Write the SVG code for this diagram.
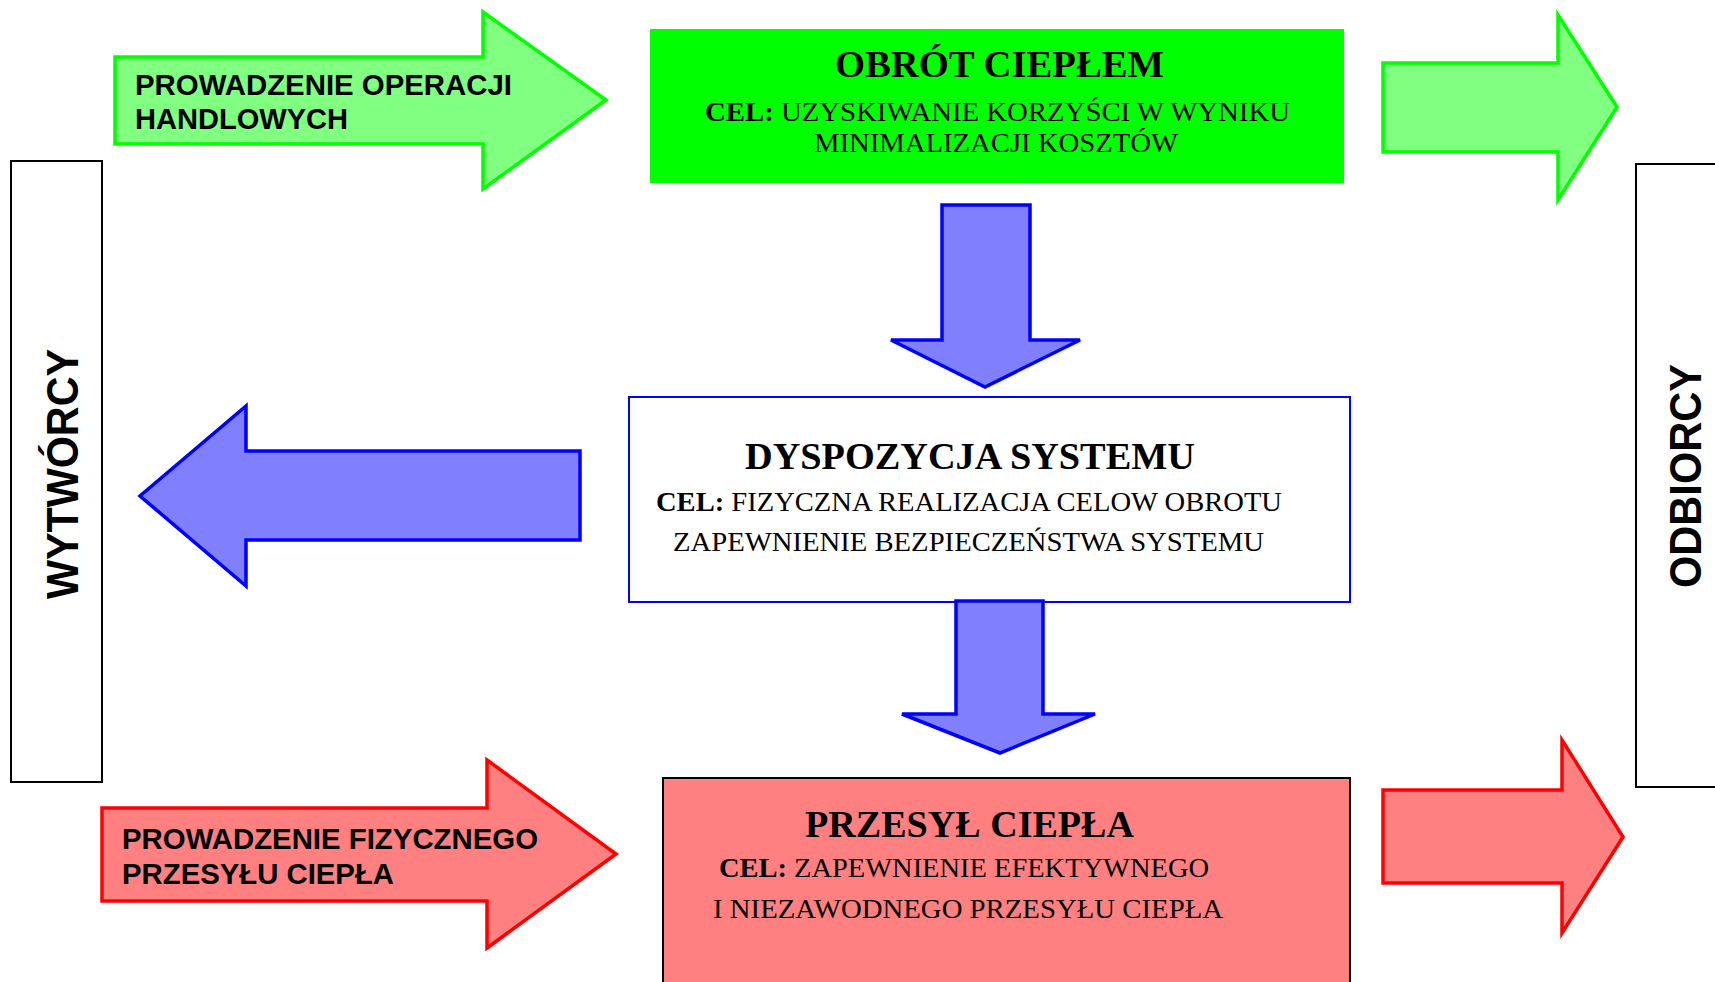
<svg xmlns="http://www.w3.org/2000/svg" width="1715" height="982" viewBox="0 0 1715 982">
<style>
.ga{fill:#80FF80;stroke:#00FF00;stroke-width:3.5;stroke-linejoin:miter}
.ba{fill:#8080FF;stroke:#0000FF;stroke-width:3.5;stroke-linejoin:miter}
.ra{fill:#FF8080;stroke:#FF0000;stroke-width:3.5;stroke-linejoin:miter}
.side{fill:#FFFFFF;stroke:#000000;stroke-width:2}
.sans{font-family:"Liberation Sans",Arial,sans-serif;font-weight:bold;fill:#000}
.ttl{font-family:"Liberation Serif","Times New Roman",serif;font-weight:bold;font-size:38px;fill:#000}
.body{font-family:"Liberation Serif","Times New Roman",serif;font-size:28px;fill:#000}
.b{font-weight:bold}
</style>
<rect width="1715" height="982" fill="#FFFFFF"/>

<g id="wytworcy">
<rect class="side" x="11" y="161" width="91" height="621"/>
<text class="sans" font-size="44" text-anchor="middle" transform="translate(78,474) rotate(-90)" textLength="250" lengthAdjust="spacingAndGlyphs">WYTWÓRCY</text>
</g>

<g id="odbiorcy">
<rect class="side" x="1636" y="164" width="100" height="623"/>
<text class="sans" font-size="44" text-anchor="middle" transform="translate(1701,476) rotate(-90)" textLength="224" lengthAdjust="spacingAndGlyphs">ODBIORCY</text>
</g>

<g id="obrot">
<rect x="650" y="29" width="694" height="154" fill="#00FF00"/>
<text class="ttl" x="835" y="77" textLength="329" lengthAdjust="spacingAndGlyphs">OBRÓT CIEPŁEM</text>
<text class="body" x="705" y="121" textLength="585" lengthAdjust="spacingAndGlyphs"><tspan class="b">CEL: </tspan>UZYSKIWANIE KORZYŚCI W WYNIKU</text>
<text class="body" x="814" y="152" textLength="364" lengthAdjust="spacingAndGlyphs">MINIMALIZACJI KOSZTÓW</text>
</g>

<g id="dyspozycja">
<rect x="629" y="397" width="721" height="205" fill="#FFFFFF" stroke="#0000FF" stroke-width="2"/>
<text class="ttl" x="745" y="469" textLength="450" lengthAdjust="spacingAndGlyphs">DYSPOZYCJA SYSTEMU</text>
<text class="body" x="656" y="511" textLength="626" lengthAdjust="spacingAndGlyphs"><tspan class="b">CEL: </tspan>FIZYCZNA REALIZACJA CELOW OBROTU</text>
<text class="body" x="673" y="551" textLength="591" lengthAdjust="spacingAndGlyphs">ZAPEWNIENIE BEZPIECZEŃSTWA SYSTEMU</text>
</g>

<g id="przesyl">
<rect x="663" y="778" width="687" height="220" fill="#FF8080" stroke="#000000" stroke-width="2"/>
<text class="ttl" x="805" y="837" textLength="329" lengthAdjust="spacingAndGlyphs">PRZESYŁ CIEPŁA</text>
<text class="body" x="719" y="877" textLength="490" lengthAdjust="spacingAndGlyphs"><tspan class="b">CEL: </tspan>ZAPEWNIENIE EFEKTYWNEGO</text>
<text class="body" x="713" y="918" textLength="510" lengthAdjust="spacingAndGlyphs">I NIEZAWODNEGO PRZESYŁU CIEPŁA</text>
</g>

<g id="connectors">
<g id="arrow-handlowe">
<polygon class="ga" points="115,57 483,57 483,12 606,100 483,189 483,144 115,144"/>
<text class="sans" font-size="29" x="135" y="95" textLength="377" lengthAdjust="spacingAndGlyphs">PROWADZENIE OPERACJI</text>
<text class="sans" font-size="29" x="135" y="129" textLength="213" lengthAdjust="spacingAndGlyphs">HANDLOWYCH</text>
</g>
<polygon id="arrow-green-right" class="ga" points="1383,63 1558,63 1558,15 1617,107 1558,200 1558,152 1383,152"/>
<polygon id="arrow-blue-down1" class="ba" points="942,205 1030,205 1030,340 1080,340 985,387 891,340 942,340"/>
<polygon id="arrow-blue-left" class="ba" points="580,451 246,451 246,406 140,496 246,586 246,540 580,540"/>
<polygon id="arrow-blue-down2" class="ba" points="956,601 1043,601 1043,714 1095,714 1000,753 902,714 956,714"/>
<g id="arrow-fizyczny">
<polygon class="ra" points="102,808 487,808 487,760 616,854 487,948 487,901 102,901"/>
<text class="sans" font-size="29" x="122" y="849" textLength="416" lengthAdjust="spacingAndGlyphs">PROWADZENIE FIZYCZNEGO</text>
<text class="sans" font-size="29" x="122" y="884" textLength="272" lengthAdjust="spacingAndGlyphs">PRZESYŁU CIEPŁA</text>
</g>
<polygon id="arrow-red-right" class="ra" points="1383,790 1562,790 1562,740 1623,837 1562,933 1562,883 1383,883"/>
</g>
</svg>
